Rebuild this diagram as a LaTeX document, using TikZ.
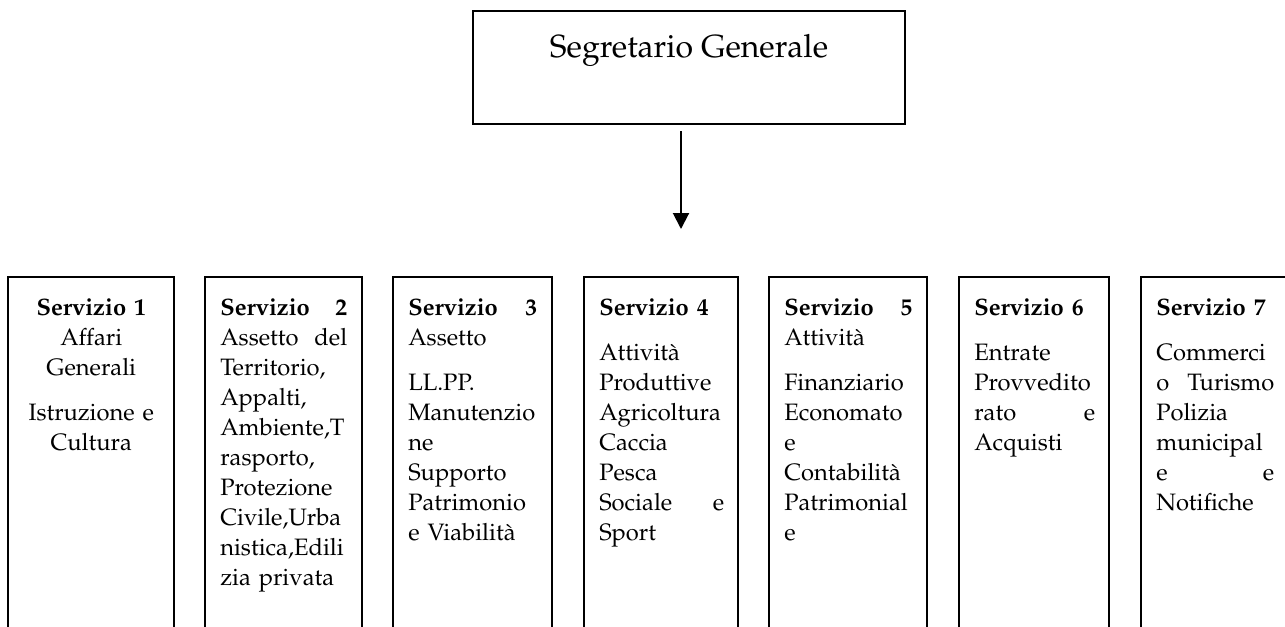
\documentclass[tikz,border=0pt]{standalone}
\usepackage[T1]{fontenc}
\usepackage{mathpazo}
\usetikzlibrary{arrows.meta}
\newcommand{\bodyfont}{\fontsize{17.8pt}{22.5pt}\selectfont}
\tikzset{
  topbox/.style={draw, line width=2.2pt, anchor=north, inner sep=0pt, outer sep=0pt,
    minimum width=324pt, text height=34.5pt, text depth=50.25pt,
    font=\fontsize{24pt}{28pt}\selectfont},
  svbox/.style={draw, line width=2.2pt, anchor=north west, inner sep=0pt, outer sep=0pt,
    minimum height=320pt},
  svtext/.style={anchor=north west, inner sep=0pt, font=\bodyfont, align=left},
  arrowline/.style={line width=1.5pt, -{Triangle[width=12pt,length=12pt]}}
}
\begin{document}
\begin{tikzpicture}[x=0.75pt,y=-0.75pt]
\useasboundingbox (0,0) rectangle (1285,626);
\clip (0,0) rectangle (1285,626);

\node[topbox] (sg) at (689,11) {Segretario Generale};

\coordinate (a1) at (681,131);
\coordinate (a2) at (681,229);
\draw[arrowline] (a1) -- (a2);

\node[svbox, minimum width=124.5pt] (s1) at (8,277) {};
\node[svbox, minimum width=117.75pt] (s2) at (205,277) {};
\node[svbox, minimum width=119.25pt] (s3) at (393,277) {};
\node[svbox, minimum width=115.5pt] (s4) at (584,277) {};
\node[svbox, minimum width=118.5pt] (s5) at (769,277) {};
\node[svbox, minimum width=112.5pt] (s6) at (959,277) {};
\node[svbox, minimum width=111pt] (s7) at (1141,277) {};

\node[svtext, align=center, text width=102pt] (t1) at ([xshift=11.25pt,yshift=-13pt]s1.north west)
  {\strut\textbf{Servizio 1}\\ Affari\\ Generali\\[11pt] Istruzione e\\ Cultura};
\node[svtext, text width=95.25pt] (t2) at ([xshift=11.25pt,yshift=-13pt]s2.north west)
  {\strut\textbf{Servizio}\hfill\textbf{2}\\ Assetto\hfill del\\ Territorio,\\ Appalti,\\ Ambiente,T\\ rasporto,\\ Protezione\\ Civile,Urba\\ nistica,Edili\\ zia privata};
\node[svtext, text width=96.75pt] (t3) at ([xshift=11.25pt,yshift=-13pt]s3.north west)
  {\strut\textbf{Servizio}\hfill\textbf{3}\\ Assetto\\[11pt] LL.PP.\\ Manutenzio\\ ne\\ Supporto\\ Patrimonio\\ e Viabilit\`a};
\node[svtext, text width=93.75pt] (t4) at ([xshift=11.25pt,yshift=-13pt]s4.north west)
  {\strut\textbf{Servizio 4}\\[11pt] Attivit\`a\\ Produttive\\ Agricoltura\\ Caccia\\ Pesca\\ Sociale\hfill e\\ Sport};
\node[svtext, text width=96pt] (t5) at ([xshift=11.25pt,yshift=-13pt]s5.north west)
  {\strut\textbf{Servizio}\hfill\textbf{5}\\ Attivit\`a\\[11pt] Finanziario\\ Economato\\ e\\ Contabilit\`a\\ Patrimonial\\ e};
\node[svtext, text width=90.75pt] (t6) at ([xshift=11.25pt,yshift=-13pt]s6.north west)
  {\strut\textbf{Servizio 6}\\[11pt] Entrate\\ Provvedito\\ rato\hfill e\\ Acquisti};
\node[svtext, text width=88.5pt] (t7) at ([xshift=11.25pt,yshift=-13pt]s7.north west)
  {\strut\textbf{Servizio 7}\\[11pt] Commerci\\ o\hfill Turismo\\ Polizia\\ municipal\\ e\hfill e\\ Notifiche};
\end{tikzpicture}
\end{document}
